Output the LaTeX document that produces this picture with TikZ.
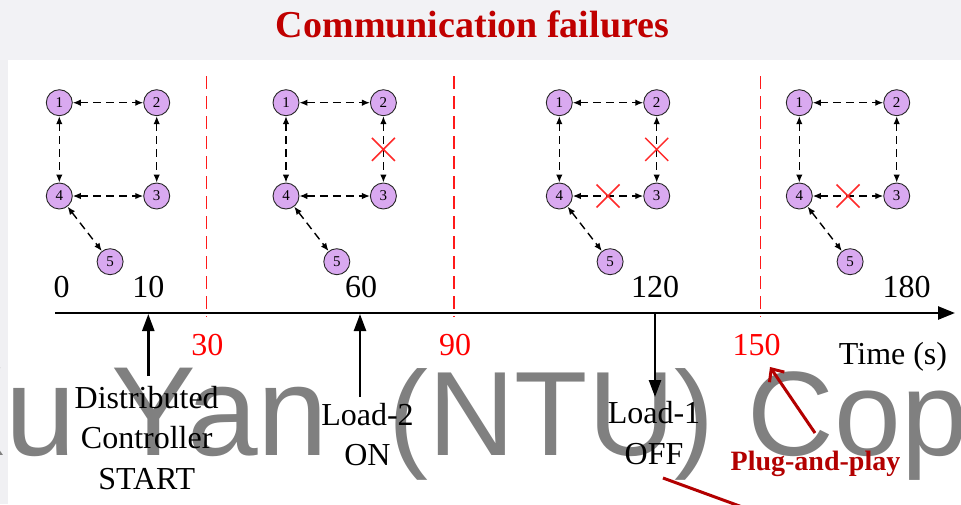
\documentclass[tikz,border=0pt]{standalone}
\usepackage{fontspec}
\setmainfont{Liberation Serif}
\newfontfamily\wmfont{Liberation Sans}
\usetikzlibrary{arrows.meta,calc}
\definecolor{nodefill}{HTML}{D9A9F0}
\definecolor{titlered}{HTML}{C00000}
\definecolor{plugred}{HTML}{B30000}
\definecolor{xred}{HTML}{FF2A2A}
\definecolor{sepred}{HTML}{FF1A1A}
\definecolor{bandgray}{HTML}{F2F2F5}
\definecolor{stripgray}{HTML}{F0F0F3}
\definecolor{wmgray}{HTML}{808080}
\begin{document}
\begin{tikzpicture}[x=1pt,y=-1pt,
  nd/.style={circle,draw=black!85,line width=0.9pt,fill=nodefill,minimum size=26pt,inner sep=0pt,font=\fontsize{15}{15}\selectfont},
  link/.style={line width=1.4pt,dash pattern=on 8pt off 5pt,{Latex[length=8pt,width=6.5pt]}-{Latex[length=8pt,width=6.5pt]}},
  xline/.style={draw=xred,line width=1.5pt},
  sepline/.style={draw=sepred,line width=1.5pt,dash pattern=on 13pt off 7pt},
  axisline/.style={line width=2.5pt,-{Triangle[length=17pt,width=13pt]}},
  evarrow/.style={line width=2.4pt,-{Triangle[length=17pt,width=12pt]}},
  lbl/.style={font=\fontsize{32}{40.5}\selectfont,inner sep=0pt},
  redlbl/.style={lbl,text=red},
  wmtext/.style={anchor=base west,inner sep=0pt,text=wmgray},
  xmark/.pic={\draw[xline] (-11.5,-11.5) -- (11.5,11.5) (-11.5,11.5) -- (11.5,-11.5);}
]
\useasboundingbox (0,0) rectangle (961,504);
% backgrounds
\fill[bandgray] (0,0) rectangle (961,60);
\fill[stripgray] (0,60) rectangle (8,504);
\fill[white] (8,60) rectangle (961,504);
% watermark
\node[wmtext,font=\wmfont\fontsize{127}{127}\selectfont] (wma) at (-79,455) {Xu Yan};
\node[wmtext,font=\wmfont\fontsize{120}{120}\selectfont] (wmb) at (388,455) {(NTU) Copyright};
% title
\node[anchor=base,inner sep=0pt,font=\bfseries\fontsize{38}{38}\selectfont,text=titlered] (title) at (472.5,37.5) {Communication failures};
% panels
\foreach \i/\x in {1/59.3,2/286,3/559.3,4/799.3}{
  \node[nd] (p\i n1) at (\x,102.7) {1};
  \node[nd] (p\i n2) at (\x+97.4,102.7) {2};
  \node[nd] (p\i n3) at (\x+97.4,196) {3};
  \node[nd] (p\i n4) at (\x,196) {4};
  \node[nd] (p\i n5) at (\x+50.8,261.7) {5};
  \draw[link] (p\i n1) -- (p\i n2);
  \draw[link] (p\i n1) -- (p\i n4);
  \draw[link] (p\i n2) -- (p\i n3);
  \draw[link] (p\i n4) -- (p\i n3);
  \draw[link] (p\i n4) -- (p\i n5);
}
% failures
\pic at ($(p2n2)!0.5!(p2n3)$) {xmark};
\pic at ($(p3n2)!0.5!(p3n3)$) {xmark};
\pic at ($(p3n4)!0.5!(p3n3)$) {xmark};
\pic at ($(p4n4)!0.5!(p4n3)$) {xmark};
% separators
\draw[sepline] (206.7,76) -- (206.7,317);
\draw[sepline] (454,76) -- (454,317);
\draw[sepline] (760.7,76) -- (760.7,317);
% time labels above axis
\node[lbl,anchor=base] (t0) at (61.7,297) {0};
\node[lbl,anchor=base] (t10) at (148.3,297) {10};
\node[lbl,anchor=base] (t60) at (361,297) {60};
\node[lbl,anchor=base] (t120) at (655,297) {120};
\node[lbl,anchor=base] (t180) at (906.7,297) {180};
% axis
\coordinate (ax0) at (55,313);
\coordinate (ax1) at (955,313);
\draw[axisline] (ax0) -- (ax1);
\node[redlbl,anchor=base] (t30) at (207.3,355) {30};
\node[redlbl,anchor=base] (t90) at (455,355) {90};
\node[redlbl,anchor=base] (t150) at (756.7,355) {150};
\node[lbl,anchor=base] (tlab) at (893,364) {Time (s)};
% events
\coordinate (e1a) at (148.3,376);
\coordinate (e1b) at (148.3,314);
\draw[evarrow] (e1a) -- (e1b);
\node[lbl,align=center,anchor=north] (ev1) at (146.7,386) {Distributed\\Controller\\START};
\coordinate (e2a) at (360,397);
\coordinate (e2b) at (360,314);
\draw[evarrow] (e2a) -- (e2b);
\node[lbl,align=center,anchor=north] (ev2) at (367.5,403) {Load-2\\ON};
\coordinate (e3a) at (655,313);
\coordinate (e3b) at (655,397);
\draw[evarrow] (e3a) -- (e3b);
\node[lbl,align=center,anchor=north] (ev3) at (654,401.5) {Load-1\\OFF};
% plug-and-play
\node[anchor=base,inner sep=0pt,font=\bfseries\fontsize{28}{28}\selectfont,text=plugred] (plug) at (815.5,470) {Plug-and-play};
\coordinate (pa) at (815,433);
\coordinate (pb) at (770,367);
\draw[plugred,line width=3pt,-{Straight Barb[length=10pt,width=18pt,line width=3pt]}] (pa) -- (pb);
\coordinate (qa) at (663,478);
\coordinate (qb) at (745,508);
\draw[plugred,line width=3pt] (qa) -- (qb);
\end{tikzpicture}
\end{document}
